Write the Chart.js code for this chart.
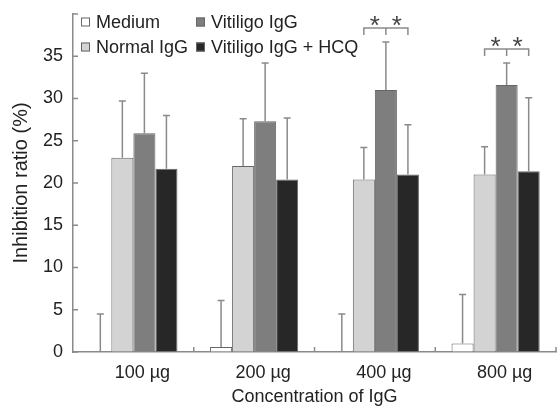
<!DOCTYPE html>
<html>
<head>
<meta charset="utf-8">
<script src="https://cdn.jsdelivr.net/npm/chart.js@4/dist/chart.umd.min.js"></script>
<style>
  html, body { margin: 0; padding: 0; background: #fff; }
</style>
</head>
<body>
<canvas id="grafico" width="557" height="408"></canvas>
<script>
const categories = ['100 µg', '200 µg', '400 µg', '800 µg'];
const seriesNames = ['Medium', 'Normal IgG', 'Vitiligo IgG', 'Vitiligo IgG + HCQ'];
const medium = [0, 0.6, 0, 1.0];
const mediumSd = [4.5, 5.5, 4.5, 5.8];
const normalIgG = [23.0, 22.0, 20.4, 21.0];
const normalSd = [6.7, 5.6, 3.8, 3.3];
const vitiligoIgG = [25.9, 27.3, 31.0, 31.6];
const vitiligoSd = [7.1, 6.9, 5.7, 2.6];
const vitiligoHcq = [21.7, 20.4, 21.0, 21.4];
const hcqSd = [6.3, 7.3, 5.9, 8.7];
const significant = [false, false, true, true];
const yTicks = [0, 5, 10, 15, 20, 25, 30, 35];

const colores = ['#ffffff', '#d3d3d3', '#7e7e7e', '#272727'];
const fuente = "'Liberation Sans', Arial, sans-serif";

// barras de error (solo hacia arriba)
const errorBars = {
  id: 'errorBars',
  afterDatasetsDraw(chart) {
    const { ctx, scales: { y } } = chart;
    ctx.save();
    ctx.strokeStyle = '#8a8a8a';
    ctx.lineWidth = 1.5;
    chart.data.datasets.forEach((ds, i) => {
      chart.getDatasetMeta(i).data.forEach((bar, j) => {
        const yTop = y.getPixelForValue(ds.data[j] + ds.sd[j]);
        const yBase = y.getPixelForValue(ds.data[j]);
        ctx.beginPath();
        ctx.moveTo(bar.x, yBase);
        ctx.lineTo(bar.x, yTop);
        ctx.moveTo(bar.x - 3.5, yTop);
        ctx.lineTo(bar.x + 3.5, yTop);
        ctx.stroke();
      });
    });
    ctx.restore();
  }
};

// corchetes de significancia
const brackets = {
  id: 'brackets',
  afterDatasetsDraw(chart) {
    const { ctx, scales: { y } } = chart;
    const normal = chart.getDatasetMeta(1).data;
    const vit = chart.getDatasetMeta(2).data;
    const hcq = chart.getDatasetMeta(3).data;
    const vitDs = chart.data.datasets[2];
    ctx.save();
    significant.forEach((sig, j) => {
      if (!sig) return;
      const top = y.getPixelForValue(vitDs.data[j] + vitDs.sd[j]) - 14;
      const x1 = normal[j].x, x2 = vit[j].x, x3 = hcq[j].x;
      ctx.strokeStyle = '#8a8a8a';
      ctx.lineWidth = 1.5;
      ctx.beginPath();
      ctx.moveTo(x1, top + 7); ctx.lineTo(x1, top); ctx.lineTo(x3, top); ctx.lineTo(x3, top + 7);
      ctx.moveTo(x2, top); ctx.lineTo(x2, top + 7);
      ctx.stroke();
      ctx.fillStyle = '#444';
      ctx.font = `26px ${fuente}`;
      ctx.textAlign = 'center';
      ctx.textBaseline = 'middle';
      ctx.fillText('*', (x1 + x2) / 2, top - 1);
      ctx.fillText('*', (x2 + x3) / 2, top - 1);
    });
    ctx.restore();
  }
};

// marcas de los ejes hacia adentro
const axisTicks = {
  id: 'axisTicks',
  afterDraw(chart) {
    const { ctx, scales: { x, y }, chartArea } = chart;
    ctx.save();
    ctx.strokeStyle = '#8a8a8a';
    ctx.lineWidth = 1.5;
    ctx.beginPath();
    y.ticks.forEach(t => {
      const py = y.getPixelForValue(t.value);
      ctx.moveTo(chartArea.left, py);
      ctx.lineTo(chartArea.left + 5, py);
    });
    categories.forEach((c, i) => {
      const px = x.getPixelForValue(i) + (x.getPixelForValue(1) - x.getPixelForValue(0)) / 2;
      ctx.moveTo(px, chartArea.bottom);
      ctx.lineTo(px, chartArea.bottom - 5);
    });
    ctx.stroke();
    ctx.restore();
  }
};

// leyenda en dos columnas dentro del área
const leyenda = {
  id: 'leyenda',
  afterDraw(chart) {
    const { ctx, chartArea } = chart;
    const orden = [[0, 0, 0], [2, 1, 0], [1, 0, 1], [3, 1, 1]];
    ctx.save();
    ctx.font = `18px ${fuente}`;
    ctx.textBaseline = 'middle';
    ctx.textAlign = 'left';
    orden.forEach(([i, col, fila]) => {
      const bx = chartArea.left + 8 + col * 115;
      const cy = chartArea.top + 8 + fila * 25;
      ctx.fillStyle = colores[i];
      ctx.fillRect(bx, cy - 4.5, 9, 9);
      ctx.strokeStyle = '#666';
      ctx.lineWidth = 1;
      ctx.strokeRect(bx + 0.5, cy - 4, 8, 8);
      ctx.fillStyle = '#222';
      ctx.fillText(seriesNames[i], bx + 15, cy + 1);
    });
    ctx.restore();
  }
};

const ds = (i, data, sd) => ({
  label: seriesNames[i],
  data,
  sd,
  backgroundColor: colores[i],
  borderColor: '#666',
  borderWidth: 1,
  borderSkipped: 'bottom'
});

const grafico = new Chart(document.getElementById('grafico'), {
  type: 'bar',
  data: {
    labels: categories,
    datasets: [
      ds(0, medium, mediumSd),
      ds(1, normalIgG, normalSd),
      ds(2, vitiligoIgG, vitiligoSd),
      ds(3, vitiligoHcq, hcqSd)
    ]
  },
  options: {
    responsive: false,
    devicePixelRatio: 1,
    animation: false,
    layout: { padding: { top: 14, right: 1, left: 0, bottom: 0 } },
    datasets: { bar: { categoryPercentage: 0.73, barPercentage: 1.0 } },
    plugins: { legend: { display: false }, tooltip: { enabled: false } },
    scales: {
      x: {
        afterFit: (s) => { s.height = 56; s.paddingLeft = 0; s.paddingRight = 0; },
        grid: { drawOnChartArea: false, drawTicks: false },
        border: { color: '#8a8a8a', width: 1.5 },
        ticks: { color: '#222', font: { family: fuente, size: 18 }, padding: 10, labelOffset: 9 },
        title: { display: true, text: 'Concentration of IgG', color: '#222', font: { family: fuente, size: 18 }, padding: { top: 0, bottom: 0 } }
      },
      y: {
        min: 0,
        max: 40,
        afterFit: (s) => { s.width = 73; s.paddingTop = 0; s.paddingBottom = 0; },
        afterBuildTicks: (s) => { s.ticks = yTicks.concat([40]).map(v => ({ value: v })); },
        grid: { drawOnChartArea: false, drawTicks: false },
        border: { color: '#8a8a8a', width: 1.5 },
        ticks: {
          color: '#222',
          font: { family: fuente, size: 18 },
          padding: 10,
          callback: (v) => yTicks.includes(v) ? v : ''
        },
        title: { display: true, text: 'Inhibition ratio (%)', color: '#222', font: { family: fuente, size: 20 }, padding: { top: 9, bottom: 0 } }
      }
    }
  },
  plugins: [errorBars, brackets, axisTicks, leyenda]
});
</script>
</body>
</html>
